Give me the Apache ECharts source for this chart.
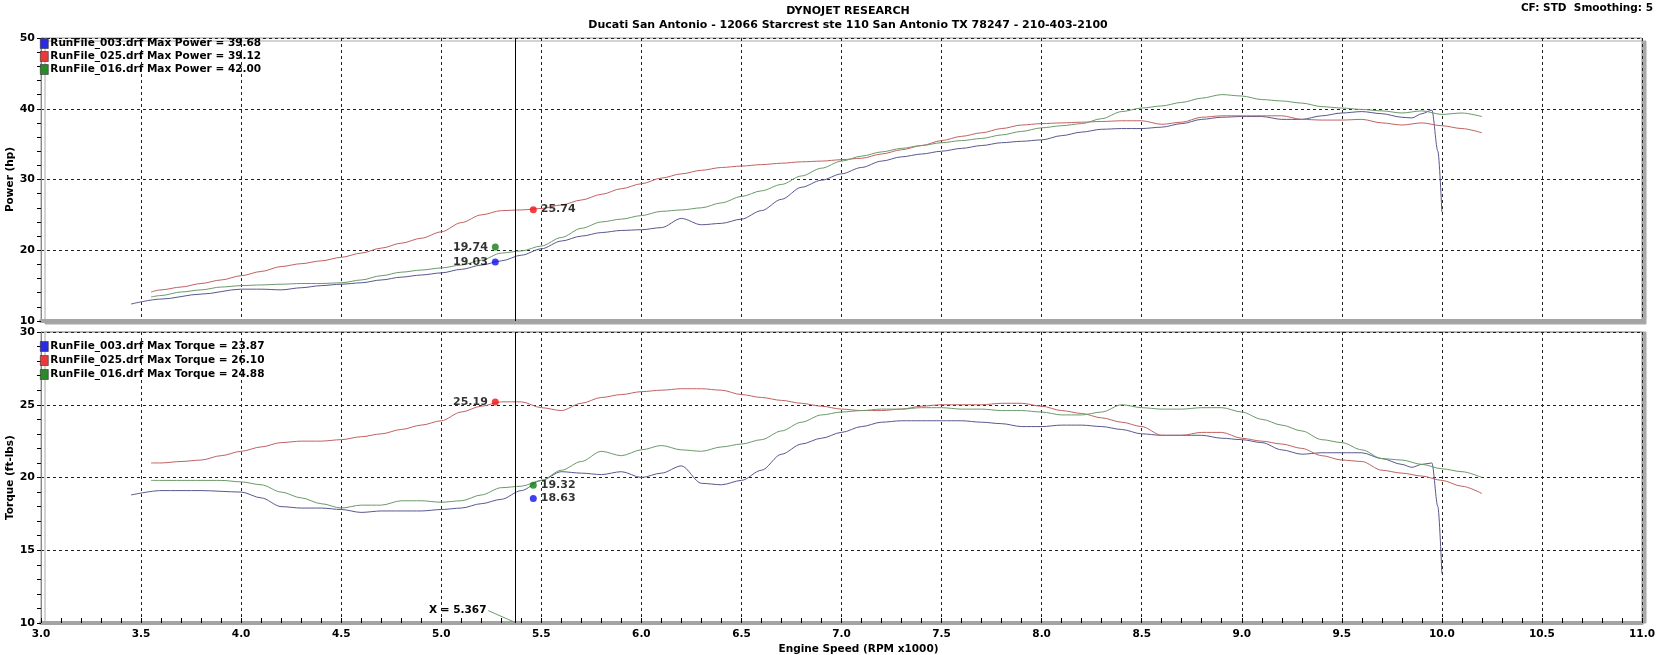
<!DOCTYPE html>
<html><head><meta charset="utf-8">
<script src="https://cdn.jsdelivr.net/npm/echarts@6/dist/echarts.min.js"></script>
<style>html,body{margin:0;padding:0;background:#fff}#c{width:1669px;height:655px}</style>
</head><body><div id="c"></div>
<script>
// ---- data ----
const runNames = ['RunFile_003.drf', 'RunFile_025.drf', 'RunFile_016.drf'];
const maxPower = ['39.68', '39.12', '42.00'];
const maxTorque = ['23.87', '26.10', '24.88'];

const rpm003 = [3.45,3.6,3.8,4.0,4.1,4.2,4.3,4.4,4.5,4.6,4.7,4.8,4.9,5.0,5.1,5.2,5.3,5.4,5.5,5.6,5.7,5.8,5.9,6.0,6.1,6.2,6.3,6.4,6.5,6.6,6.7,6.8,6.9,7.0,7.1,7.2,7.3,7.4,7.5,7.6,7.7,7.8,7.9,8.0,8.1,8.2,8.3,8.4,8.5,8.6,8.7,8.8,8.9,9.0,9.1,9.2,9.3,9.4,9.5,9.6,9.7,9.8,9.85,9.9,9.95,9.98,10.0];
const power003 = [12.4,13.1,13.8,14.5,14.5,14.4,14.7,15.0,15.2,15.4,15.8,16.2,16.5,16.8,17.3,17.9,18.5,19.3,20.2,21.3,22.0,22.5,22.8,22.9,23.2,24.5,23.6,23.8,24.4,25.6,27.2,28.9,29.9,30.8,31.7,32.6,33.2,33.6,34.0,34.4,34.8,35.2,35.4,35.6,36.2,36.7,37.1,37.2,37.2,37.4,37.9,38.5,38.8,38.9,38.9,38.5,38.5,39.0,39.4,39.6,39.3,38.8,38.7,39.3,39.8,34.0,25.4];
const torque003 = [18.8,19.1,19.1,19.0,18.6,18.0,17.9,17.9,17.8,17.6,17.7,17.7,17.7,17.8,17.9,18.2,18.5,19.1,19.8,20.4,20.3,20.2,20.4,20.0,20.3,20.8,19.6,19.5,19.8,20.5,21.6,22.3,22.7,23.1,23.5,23.8,23.9,23.9,23.9,23.9,23.8,23.7,23.5,23.5,23.6,23.6,23.5,23.3,23.0,22.9,22.9,22.9,22.7,22.6,22.4,21.9,21.6,21.7,21.7,21.7,21.3,20.9,20.7,20.9,21.0,18.0,13.4];

const rpm025 = [3.55,3.6,3.7,3.8,3.9,4.0,4.1,4.2,4.3,4.4,4.5,4.6,4.7,4.8,4.9,5.0,5.1,5.2,5.3,5.4,5.5,5.6,5.7,5.8,5.9,6.0,6.1,6.2,6.3,6.4,6.5,6.6,6.7,6.8,6.9,7.0,7.1,7.2,7.3,7.4,7.5,7.6,7.7,7.8,7.9,8.0,8.1,8.2,8.3,8.4,8.5,8.6,8.7,8.8,8.9,9.0,9.1,9.2,9.3,9.4,9.5,9.6,9.7,9.8,9.9,10.0,10.1,10.2];
const power025 = [14.1,14.4,14.8,15.3,15.8,16.4,17.0,17.7,18.1,18.5,19.0,19.6,20.3,21.0,21.7,22.6,23.9,25.0,25.6,25.7,25.9,26.4,27.1,27.9,28.7,29.4,30.2,30.8,31.3,31.7,31.9,32.1,32.3,32.5,32.6,32.8,33.0,33.6,34.2,34.8,35.5,36.1,36.6,37.2,37.7,37.9,38.0,38.1,38.2,38.3,38.3,37.8,38.1,38.8,39.0,39.0,39.0,39.0,38.5,38.4,38.4,38.5,38.0,37.7,38.0,37.6,37.2,36.6];
const torque025 = [21.0,21.0,21.1,21.2,21.5,21.8,22.1,22.4,22.5,22.5,22.6,22.8,23.0,23.3,23.6,23.9,24.5,24.9,25.2,25.2,24.8,24.6,25.1,25.5,25.7,25.9,26.0,26.1,26.1,26.0,25.7,25.5,25.3,25.1,24.9,24.7,24.6,24.6,24.7,24.9,25.0,25.0,25.0,25.1,25.1,24.9,24.6,24.4,24.1,23.8,23.5,22.9,22.9,23.1,23.1,22.7,22.5,22.3,22.0,21.5,21.2,21.1,20.5,20.3,20.1,19.8,19.4,18.9];

const rpm016 = [3.55,3.6,3.7,3.8,3.9,4.0,4.1,4.2,4.3,4.4,4.5,4.6,4.7,4.8,4.9,5.0,5.1,5.2,5.3,5.4,5.5,5.6,5.7,5.8,5.9,6.0,6.1,6.2,6.3,6.4,6.5,6.6,6.7,6.8,6.9,7.0,7.1,7.2,7.3,7.4,7.5,7.6,7.7,7.8,7.9,8.0,8.1,8.2,8.3,8.4,8.5,8.6,8.7,8.8,8.9,9.0,9.1,9.2,9.3,9.4,9.5,9.6,9.7,9.8,9.9,10.0,10.1,10.2];
const power016 = [13.4,13.6,14.1,14.4,14.8,15.0,15.1,15.2,15.3,15.3,15.4,15.8,16.4,16.9,17.2,17.5,17.9,18.6,19.6,19.9,20.6,21.8,23.1,24.0,24.4,24.9,25.5,25.7,26.0,26.7,27.6,28.4,29.3,30.5,31.6,32.6,33.3,33.9,34.4,34.8,35.2,35.5,35.8,36.3,36.8,37.3,37.6,37.9,38.6,39.6,40.1,40.4,40.9,41.5,42.0,41.8,41.3,41.1,40.8,40.3,40.1,39.9,39.7,39.4,39.7,39.2,39.4,38.9];
const torque016 = [19.8,19.8,19.8,19.8,19.8,19.7,19.5,19.0,18.6,18.2,17.9,18.1,18.1,18.4,18.4,18.3,18.4,18.8,19.3,19.4,19.8,20.5,21.1,21.8,21.5,21.9,22.2,21.9,21.8,22.1,22.3,22.6,23.2,23.8,24.3,24.5,24.6,24.7,24.7,24.8,24.8,24.7,24.7,24.6,24.6,24.5,24.3,24.3,24.5,25.0,24.8,24.7,24.7,24.8,24.8,24.5,24.0,23.6,23.2,22.6,22.4,21.9,21.3,21.2,20.9,20.6,20.4,20.0];

// cursor and marker annotations
const cursorX = 5.367;
const powerMarkRpm = [5.27, 5.46, 5.27];
const powerMarkVal = [18.35, 25.74, 20.45];
const powerMarkText = ['19.03', '25.74', '19.74'];
const torqueMarkRpm = [5.46, 5.27, 5.46];
const torqueMarkVal = [18.56, 25.19, 19.47];
const torqueMarkText = ['18.63', '25.19', '19.32'];
const markSide = { power: ['left', 'right', 'left'], torque: ['right', 'left', 'right'] };

const xMin = 3.0, xMax = 11.0, xStep = 0.5;
const powerAxis = { min: 10, max: 50, step: 10 };
const torqueAxis = { min: 10, max: 30, step: 5 };

// ---- styling ----
const FONT = 'DejaVu Sans';
const lineColors = ['#58588e', '#c06262', '#6a9a6a'];
const markColors = ['#1010f0', '#f01010', '#108010'];
const iconColors = ['#2a2ae0', '#e83a3a', '#2a8a2a'];

const rpms = [rpm003, rpm025, rpm016];
const powers = [power003, power025, power016];
const torques = [torque003, torque025, torque016];
const zip = (a, b) => a.map((v, i) => [v, b[i]]);

const powerNames = runNames.map((n, i) => n + ' Max Power = ' + maxPower[i]);
const torqueNames = runNames.map((n, i) => n + ' Max Torque = ' + maxTorque[i]);

const bold = { fontFamily: FONT, fontWeight: 'bold', fontSize: 10.5, color: '#000' };
const gridDash = { color: '#222', type: [3, 3], width: 1 };

function xAxisCfg(idx, showLabels) {
  return {
    type: 'value', gridIndex: idx, min: xMin, max: xMax, interval: xStep,
    axisLine: { show: true, onZero: false, lineStyle: { color: '#a4a4a4', width: 4 } },
    axisTick: { show: showLabels, inside: true, length: 5, lineStyle: { color: '#000' } },
    minorTick: { show: showLabels, splitNumber: 5, length: 5, lineStyle: { color: '#000' } },
    axisLabel: { show: showLabels, ...bold, margin: 6, formatter: v => v.toFixed(1) },
    splitLine: { show: true, lineStyle: gridDash },
    name: showLabels ? 'Engine Speed (RPM x1000)' : '',
    nameLocation: 'middle', nameGap: 21, nameMoveOverlap: false,
    nameTextStyle: { ...bold, padding: [0, 0, 0, 34] }
  };
}
function yAxisCfg(idx, ax, name) {
  return {
    type: 'value', gridIndex: idx, min: ax.min, max: ax.max, interval: ax.step,
    axisLine: { show: true, lineStyle: { color: '#888', width: 1 } },
    axisTick: { show: true, length: 4, lineStyle: { color: '#000' } },
    minorTick: { show: true, splitNumber: 5, length: 4, lineStyle: { color: '#000' } },
    axisLabel: { ...bold, fontSize: 11, margin: 6 },
    splitLine: { show: true, lineStyle: gridDash },
    name: name, nameLocation: 'middle', nameGap: 25, nameRotate: 90, nameMoveOverlap: false,
    nameTextStyle: { ...bold }
  };
}

const series = [];
for (let i = 0; i < 3; i++) {
  series.push({
    name: powerNames[i], type: 'line', xAxisIndex: 0, yAxisIndex: 0,
    data: zip(rpms[i], powers[i]), showSymbol: false, smooth: 0.3, smoothMonotone: 'x',
    lineStyle: { color: lineColors[i], width: 1 }, itemStyle: { color: iconColors[i] },
    z: 3, silent: true
  });
}
for (let i = 0; i < 3; i++) {
  series.push({
    name: torqueNames[i], type: 'line', xAxisIndex: 1, yAxisIndex: 1,
    data: zip(rpms[i], torques[i]), showSymbol: false, smooth: 0.3, smoothMonotone: 'x',
    lineStyle: { color: lineColors[i], width: 1 }, itemStyle: { color: iconColors[i] },
    z: 3, silent: true
  });
}
// cursor line in both panels
[0, 1].forEach(g => {
  series.push({
    type: 'line', xAxisIndex: g, yAxisIndex: g, data: [], silent: true,
    markLine: {
      silent: true, symbol: 'none', animation: false,
      lineStyle: { color: '#000', width: 1, type: 'solid' }, label: { show: false },
      data: [{ xAxis: cursorX }]
    }
  });
});
// cursor readout label with leader
series.push({
  type: 'line', xAxisIndex: 1, yAxisIndex: 1, data: [], silent: true,
  markLine: {
    silent: true, symbol: 'none', animation: false,
    lineStyle: { color: '#6f9a6f', width: 1, type: 'solid' },
    label: { show: true, position: 'end', formatter: 'X = ' + cursorX.toFixed(3), ...bold, distance: 2, align: 'right' },
    data: [[{ coord: [cursorX, 10.05] }, { coord: [5.235, 10.85] }]]
  }
});
// markers
function markerSeries(g, rpmArr, valArr, txtArr, sides) {
  for (let i = 0; i < 3; i++) {
    series.push({
      type: 'scatter', xAxisIndex: g, yAxisIndex: g, silent: true, z: 5,
      symbol: 'circle', symbolSize: 7,
      itemStyle: { color: markColors[i] },
      data: [{ value: [rpmArr[i], valArr[i]] }],
      label: { show: true, position: sides[i], distance: 4, formatter: txtArr[i], ...bold, fontSize: 11 }
    });
  }
}
markerSeries(0, powerMarkRpm, powerMarkVal, powerMarkText, markSide.power);
markerSeries(1, torqueMarkRpm, torqueMarkVal, torqueMarkText, markSide.torque);

const legendCommon = {
  orient: 'vertical', left: 40, itemWidth: 8, itemHeight: 10, padding: 0,
  icon: 'rect', selectedMode: false, textStyle: { ...bold, padding: [0, 0, 0, -3] }
};

const gridCommon = {
  left: 41, width: 1601, show: true, backgroundColor: '#fff', borderColor: '#9a9a9a', borderWidth: 1,
  shadowColor: '#a8a8a8', shadowOffsetX: 4, shadowBlur: 0,
  containLabel: false, outerBoundsMode: 'none'
};

const option = {
  backgroundColor: '#fff',
  animation: false,
  title: [
    { text: 'DYNOJET RESEARCH', left: 843, top: 1, textAlign: 'center', textStyle: { ...bold, fontSize: 11 } },
    { text: 'Ducati San Antonio - 12066 Starcrest ste 110 San Antonio TX 78247 - 210-403-2100', left: 843, top: 15, textAlign: 'center', textStyle: { ...bold, fontSize: 11 } },
    { text: 'CF: STD  Smoothing: 5', right: 11, top: -2, textStyle: { ...bold } }
  ],
  legend: [
    { ...legendCommon, top: 38, itemGap: 2, data: powerNames.map((n, i) => ({ name: n, itemStyle: { color: iconColors[i], borderColor: '#333', borderWidth: 0.6 } })) },
    { ...legendCommon, top: 341, itemGap: 3, data: torqueNames.map((n, i) => ({ name: n, itemStyle: { color: iconColors[i], borderColor: '#333', borderWidth: 0.6 } })) }
  ],
  grid: [
    { ...gridCommon, top: 38, height: 283, shadowOffsetY: 3 },
    { ...gridCommon, top: 332, height: 291, shadowOffsetY: 0 }
  ],
  xAxis: [xAxisCfg(0, false), xAxisCfg(1, true)],
  yAxis: [yAxisCfg(0, powerAxis, 'Power (hp)'), yAxisCfg(1, torqueAxis, 'Torque (ft-lbs)')],
  series: series
};

const chart = echarts.init(document.getElementById('c'), null, { renderer: 'canvas' });
chart.setOption(option);
</script>
</body></html>
